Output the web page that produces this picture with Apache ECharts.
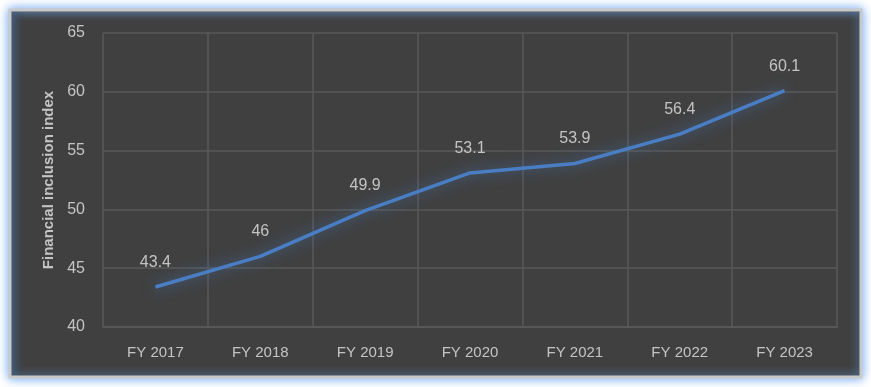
<!DOCTYPE html>
<html><head><meta charset="utf-8">
<script src="https://cdn.jsdelivr.net/npm/echarts@6/dist/echarts.min.js"></script>
<style>html,body{margin:0;padding:0;background:#fff}#c{width:871px;height:387px}</style>
</head><body><div id="c"></div>
<script>
var categories = ['FY 2017','FY 2018','FY 2019','FY 2020','FY 2021','FY 2022','FY 2023'];
var values = [43.4, 46, 49.9, 53.1, 53.9, 56.4, 60.1];
var yName = 'Financial inclusion index';

var chart = echarts.init(document.getElementById('c'));
chart.setOption({
  backgroundColor: '#ffffff',
  animation: false,
  graphic: [
    {type:'rect', z:-10, shape:{x:10,y:10,width:851,height:367},
     style:{fill:'#404040', stroke:'#c9c9c9', lineWidth:3, shadowBlur:10, shadowColor:'rgba(100,160,240,0.9)'}},
    {type:'rect', z:-9, shape:{x:12,y:12,width:847,height:10},
     style:{fill:{type:'linear',x:0,y:0,x2:0,y2:1,colorStops:[{offset:0,color:'rgba(90,120,160,0.55)'},{offset:1,color:'rgba(64,64,64,0)'}]}}},
    {type:'rect', z:-9, shape:{x:12,y:12,width:14,height:363},
     style:{fill:{type:'linear',x:0,y:0,x2:1,y2:0,colorStops:[{offset:0,color:'rgba(60,90,130,0.55)'},{offset:1,color:'rgba(64,64,64,0)'}]}}}
  ],
  grid: {left:103, right:34, top:33, bottom:60},
  xAxis: {
    type:'category', data:categories, boundaryGap:true,
    axisLine:{show:true, lineStyle:{color:'#595959', width:1.5}},
    axisTick:{show:false},
    splitLine:{show:true, lineStyle:{color:'#595959', width:1.5}},
    axisLabel:{color:'#c4c4c4', fontSize:15, fontFamily:'Liberation Sans, Arial', margin:18}
  },
  yAxis: {
    type:'value', min:40, max:65, interval:5,
    name:yName, nameLocation:'middle', nameGap:46,
    nameTextStyle:{color:'#c4c4c4', fontSize:15, fontWeight:'bold', fontFamily:'Liberation Sans, Arial'},
    axisLine:{show:false}, axisTick:{show:false},
    splitLine:{show:true, lineStyle:{color:'#595959', width:1.5}},
    axisLabel:{color:'#c4c4c4', fontSize:16, fontFamily:'Liberation Sans, Arial', margin:18}
  },
  series: [{
    type:'line', data:values, symbol:'circle', symbolSize:1, showSymbol:true, smooth:false,
    itemStyle:{color:'rgba(0,0,0,0)'},
    lineStyle:{color:'#4a7ec4', width:3.5, shadowBlur:14, shadowColor:'rgba(70,130,210,0.7)'},
    label:{show:true, position:'top', distance:16, color:'#c4c4c4', fontSize:16, fontFamily:'Liberation Sans, Arial'}
  }]
});
</script></body></html>
